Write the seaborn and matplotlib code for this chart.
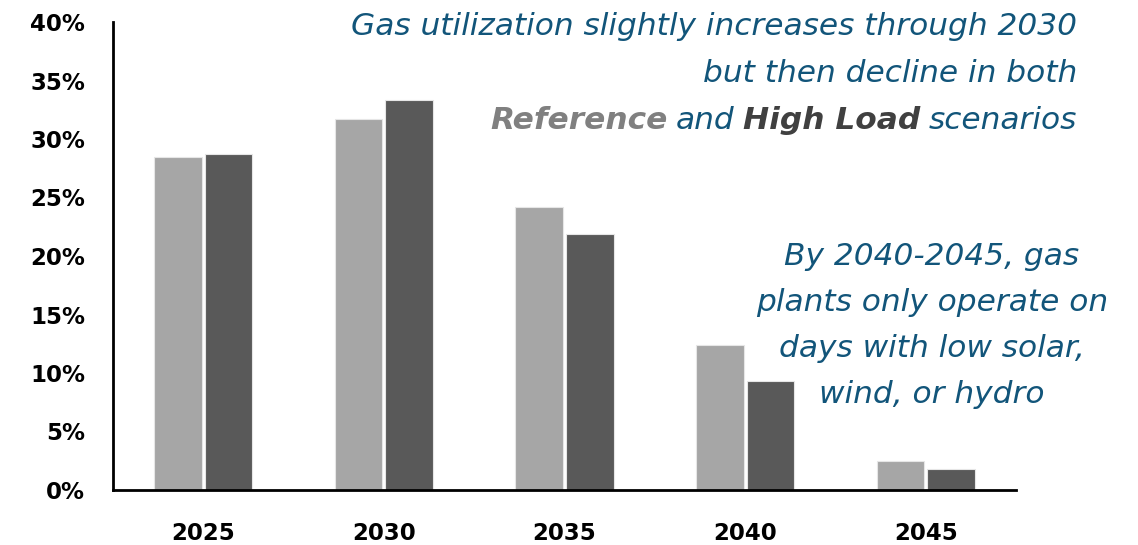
import matplotlib
matplotlib.use("Agg")
import matplotlib.pyplot as plt
import matplotlib.ticker as mticker
import pandas as pd
import seaborn as sns

# Gas plant utilization (capacity factor, %) by scenario
years = ["2025", "2030", "2035", "2040", "2045"]
reference = [28.5, 31.7, 24.2, 12.4, 2.5]
high_load = [28.7, 33.3, 21.9, 9.3, 1.8]
scenarios = ["Reference", "High Load"]
colors = ["#A6A6A6", "#595959"]
y_ticks = [0, 5, 10, 15, 20, 25, 30, 35, 40]

df = pd.DataFrame({
    "year": years * 2,
    "utilization": reference + high_load,
    "scenario": [scenarios[0]] * len(years) + [scenarios[1]] * len(years),
})

sns.set_theme(style="white")
plt.rcParams["font.family"] = ["DejaVu Sans"]

W, H = 1138, 545
fig = plt.figure(figsize=(W / 100, H / 100), dpi=100)
ax = fig.add_axes([113 / W, 1 - 490 / H, (1016 - 113) / W, (490 - 22) / H])

sns.barplot(data=df, x="year", y="utilization", hue="scenario",
            order=years, hue_order=scenarios, palette=colors,
            width=0.56, gap=0.06, edgecolor="#E6E6E6", linewidth=0.8,
            legend=False, ax=ax)

ax.set_xlim(-0.5, 4.5)
ax.set_ylim(0, 40)
ax.set_yticks(y_ticks)
ax.yaxis.set_major_formatter(mticker.FuncFormatter(lambda v, _: f"{v:.0f}%"))
ax.set_xlabel("")
ax.set_ylabel("")
for side in ["top", "right"]:
    ax.spines[side].set_visible(False)
for side in ["left", "bottom"]:
    ax.spines[side].set_color("black")
    ax.spines[side].set_linewidth(2.0)
ax.tick_params(axis="both", length=0, labelsize=16.5, colors="black")
ax.tick_params(axis="y", pad=20)
ax.tick_params(axis="x", pad=23)
for lab in ax.get_xticklabels() + ax.get_yticklabels():
    lab.set_fontweight("bold")

teal = "#12557A"
note_font = ["DejaVu Sans"]
fs = 22.5


def fx(px):
    return px / W


def fy(py):
    return 1 - py / H


# Headline, right-aligned
fig.text(fx(1077), fy(35), "Gas utilization slightly increases through 2030",
         ha="right", va="baseline", color=teal, fontsize=fs,
         style="italic", family=note_font)
fig.text(fx(1077), fy(82), "but then decline in both",
         ha="right", va="baseline", color=teal, fontsize=fs,
         style="italic", family=note_font)

# Third line with scenario names in their bar colours
t3 = fig.text(fx(1077), fy(129), "scenarios", ha="right", va="baseline",
              color=teal, fontsize=fs, style="italic", family=note_font)
pieces = [("High Load", "#404040", "bold"), ("and", teal, "normal"),
          ("Reference", "#808080", "bold")]
prev = t3
for txt, col, wt in pieces:
    prev = ax.annotate(txt, xy=(0, 0), xycoords=prev, xytext=(-6, 0),
                       textcoords="offset points", ha="right", va="bottom",
                       color=col, fontsize=fs, style="italic",
                       fontweight=wt, family=note_font,
                       annotation_clip=False)

# Note about late-period operation, centred
note2 = ["By 2040-2045, gas", "plants only operate on",
         "days with low solar,", "wind, or hydro"]
for i, line in enumerate(note2):
    fig.text(fx(932), fy(265 + 46 * i), line, ha="center", va="baseline",
             color=teal, fontsize=fs, style="italic", family=note_font)

fig.savefig("out.png", dpi=100)
